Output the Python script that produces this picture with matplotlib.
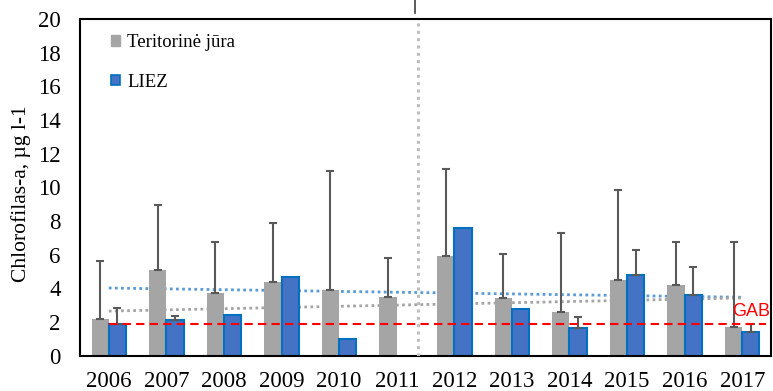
import numpy as np
import matplotlib
matplotlib.use("Agg")
import matplotlib.pyplot as plt
from matplotlib.patches import Patch
from matplotlib.lines import Line2D

# chlorofilas-a vidurkiai ir standartiniai nuokrypiai (virsutine riba)
metai = ["2006", "2007", "2008", "2009", "2010", "2011",
         "2012", "2013", "2014", "2015", "2016", "2017"]
teritorine = [2.2, 5.1, 3.7, 4.4, 3.9, 3.5, 5.95, 3.42, 2.6, 4.47, 4.17, 1.7]
teritorine_max = [5.64, 8.96, 6.77, 7.87, 10.95, 5.83, 11.1, 6.05, 7.26, 9.86, 6.77, 6.77]
liez = [1.9, 2.14, 2.4, 4.65, 0.99, np.nan, 7.6, 2.77, 1.64, 4.8, 3.62, 1.42]
liez_max = [2.83, 2.33, np.nan, np.nan, np.nan, np.nan, np.nan, np.nan, 2.27, 6.27, 5.24, 1.88]

# tiesiniai trendai (pradzia, pabaiga)
trend_teritorine = [2.65, 3.43]
trend_liez = [4.02, 3.47]

gab = 1.9
skirtukas = 5.37  # laikotarpiu riba

plt.rcParams['font.family'] = ['Liberation Serif', 'DejaVu Serif']

fig = plt.figure(figsize=(7.73, 3.91), dpi=100)
ax = fig.add_axes([0.1035, 0.0903, 0.8939, 0.8611])

x = np.arange(len(metai))
w = 0.30

ax.bar(x - w / 2, teritorine, w, color="#A5A5A5", zorder=2, label="Teritorinė jūra")
ax.bar(x + w / 2, liez, w, color="#4472C4", edgecolor="#0070C0", linewidth=1.5,
       zorder=2, label="LIEZ")

# klaidu juostos tik i virsu
t = np.array(teritorine)
tm = np.array(teritorine_max)
ax.errorbar(x - w / 2, t, yerr=[np.zeros_like(t), tm - t], fmt="none",
            ecolor="#595959", elinewidth=1.5, capsize=3, capthick=1.5, zorder=3)
l = np.array(liez)
lm = np.array(liez_max)
ok = ~np.isnan(lm)
ax.errorbar(x[ok] + w / 2, l[ok], yerr=[np.zeros(ok.sum()), lm[ok] - l[ok]], fmt="none",
            ecolor="#595959", elinewidth=1.5, capsize=3, capthick=1.5, zorder=3)

# trendai
ax.plot([x[0], x[-1]], trend_liez, color="#5B9BD5", lw=2, ls=(0, (1, 1.2)), zorder=1)
ax.plot([x[0], x[-1]], trend_teritorine, color="#A5A5A5", lw=2, ls=(0, (1, 1.2)), zorder=1)

# GAB riba
ax.plot([0, 11.42], [gab, gab], color="red", lw=1.5, ls=(0, (4, 2.5)), zorder=4)
ax.text(10.83, 2.6, "GAB", color="red", fontsize=13, family="Liberation Sans",
        va="center", ha="left", zorder=5)

ax.axvline(skirtukas, color="#BFBFBF", lw=2.2, ls=(0, (1, 1.4)), zorder=4)

ax.set_xlim(-0.5, 11.5)
ax.set_ylim(0, 20)
ax.set_yticks(np.arange(0, 21, 2))
ax.set_xticks(x)
ax.set_xticklabels(metai)
ax.tick_params(axis="x", length=0, labelsize=16.5, pad=11)
ax.tick_params(axis="y", length=0, labelsize=16.5, pad=14)
ax.set_ylabel("Chlorofilas-a, µg l-1", fontsize=15.5)
ax.yaxis.set_label_coords(-0.071, 0.48)
for s in ax.spines.values():
    s.set_color("black")
    s.set_linewidth(1.5)

rankenos = [Patch(facecolor="#A5A5A5", edgecolor="#A5A5A5"),
            Patch(facecolor="#4472C4", edgecolor="#0070C0", linewidth=1.2)]
ax.legend(rankenos, ["Teritorinė jūra", "LIEZ"], loc="upper left",
          bbox_to_anchor=(0.045, 0.955), frameon=False, fontsize=13.5,
          handlelength=0.45, handleheight=0.45, handletextpad=0.4,
          labelspacing=1.2, borderpad=0, borderaxespad=0)

# linija virs grafiko
fig.add_artist(Line2D([414.7 / 773, 414.7 / 773], [1.0, 1 - 13 / 391],
                      color="#404040", lw=1.2))

fig.savefig("out.png", dpi=100)
